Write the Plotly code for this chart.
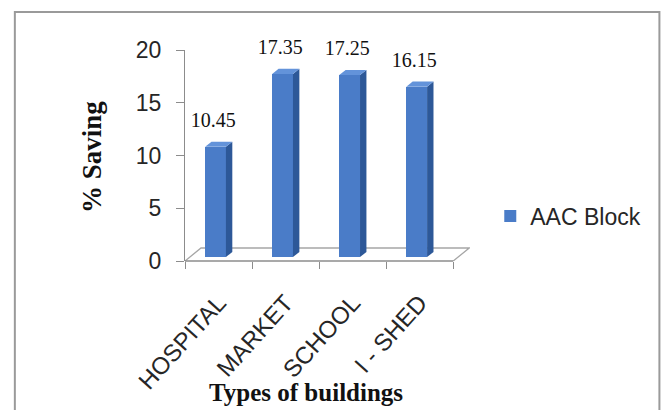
import plotly.graph_objects as go

# ---- data ----
categories = ["HOSPITAL", "MARKET", "SCHOOL", "I - SHED"]
savings = [10.45, 17.35, 17.25, 16.15]
label_text = ["10.45", "17.35", "17.25", "16.15"]
y_ticks = [0, 5, 10, 15, 20]
series_name = "AAC Block"
x_title = "Types of buildings"
y_title = "% Saving"

# ---- layout geometry ----
W, H = 663, 410
L, T = 185, 50
X_RANGE = [-0.5, 3.75]
Y_RANGE = [0, 20]
PX_PER_CAT = 67
PLOT_W = PX_PER_CAT * (X_RANGE[1] - X_RANGE[0])
PLOT_H = 211
R = W - L - PLOT_W
B = H - T - PLOT_H
Y0_PX = T + PLOT_H


def px_to_paper_x(px):
    return (px - L) / PLOT_W


def px_to_paper_y(py):
    return (Y0_PX - py) / PLOT_H


# 3-D depth vector (in axis units)
DX = 16 / PX_PER_CAT
DY = 13 / (PLOT_H / (Y_RANGE[1] - Y_RANGE[0]))
K0, K1 = 0.3, 0.7
BAR_OFFSET = -0.2
BAR_WIDTH = 0.31
base = K0 * DY
ddx = (K1 - K0) * DX
ddy = (K1 - K0) * DY

FRONT = "#4a7cc8"
SIDE = "#2d5898"
TOP = "#6393da"
AXIS = "#8c8c8c"
SANS = "Liberation Sans Narrow, Arial Narrow, Liberation Sans, sans-serif"
SERIF = "Liberation Serif, Times New Roman, serif"

fig = go.Figure()

fig.add_trace(go.Bar(
    x=categories, y=savings, base=[base] * len(savings),
    offset=BAR_OFFSET, width=BAR_WIDTH,
    marker=dict(color=FRONT, line=dict(width=0)),
    name=series_name, showlegend=True,
))

shapes = []
# floor outline
shapes.append(dict(
    type="path", xref="x", yref="y",
    path=(f"M {X_RANGE[0]},0 L {X_RANGE[0] + DX},{DY} "
          f"L {len(categories) - 0.5 + DX},{DY} L {len(categories) - 0.5},0"),
    line=dict(color="#a6a6a6", width=1.3), layer="below",
))
# x axis line (front edge)
shapes.append(dict(
    type="line", xref="x", yref="paper",
    x0=-0.5, x1=len(categories) - 0.5, y0=0, y1=0,
    line=dict(color=AXIS, width=1.3),
))
# side and top faces of bars
for i, v in enumerate(savings):
    xl = i + BAR_OFFSET
    xr = xl + BAR_WIDTH
    top = base + v
    shapes.append(dict(
        type="path", xref="x", yref="y",
        path=f"M {xr},{base} L {xr + ddx},{base + ddy} L {xr + ddx},{top + ddy} L {xr},{top} Z",
        fillcolor=SIDE, line=dict(width=0),
    ))
    shapes.append(dict(
        type="path", xref="x", yref="y",
        path=f"M {xl},{top} L {xr},{top} L {xr + ddx},{top + ddy} L {xl + ddx},{top + ddy} Z",
        fillcolor=TOP, line=dict(width=0),
    ))
# outer frame
shapes.append(dict(
    type="rect", xref="paper", yref="paper",
    x0=px_to_paper_x(15), x1=px_to_paper_x(659),
    y0=px_to_paper_y(420), y1=px_to_paper_y(12),
    line=dict(color="#9a9a9a", width=2), fillcolor="rgba(0,0,0,0)",
))

# data labels
fig.add_trace(go.Scatter(
    x=[i - 0.08 for i in range(len(savings))],
    y=[base + v + ddy + 0.9 for v in savings],
    text=label_text, mode="text", textposition="top center",
    textfont=dict(family=SERIF, size=20, color="#111111"),
    xaxis="x2", showlegend=False, cliponaxis=False, hoverinfo="skip",
))

fig.update_layout(
    width=W, height=H, autosize=False,
    margin=dict(l=L, r=R, t=T, b=B, pad=0),
    paper_bgcolor="white", plot_bgcolor="white",
    shapes=shapes,
    xaxis=dict(
        type="category", range=X_RANGE, tickson="boundaries",
        ticks="outside", ticklen=7, tickcolor=AXIS, tickwidth=1.3,
        showline=False, showgrid=False, zeroline=False,
        tickangle=-48, ticklabelstandoff=22,
        tickfont=dict(family=SANS, size=24, color="#262626"),
    ),
    xaxis2=dict(overlaying="x", range=X_RANGE, visible=False),
    yaxis=dict(
        range=Y_RANGE, tickvals=y_ticks,
        ticks="outside", ticklen=8, tickcolor=AXIS, tickwidth=1.3,
        showline=True, linecolor=AXIS, linewidth=1.3,
        showgrid=False, zeroline=False, ticklabelstandoff=10,
        tickfont=dict(family=SANS, size=23, color="#262626"),
    ),
    legend=dict(
        x=px_to_paper_x(490), y=px_to_paper_y(216),
        xanchor="left", yanchor="middle",
        font=dict(family=SANS, size=23, color="#262626"),
        bgcolor="rgba(0,0,0,0)",
    ),
    annotations=[
        dict(text=f"<b>{y_title}</b>", xref="paper", yref="paper",
             x=px_to_paper_x(92), y=px_to_paper_y(157),
             xanchor="center", yanchor="middle", textangle=-90, showarrow=False,
             font=dict(family=SERIF, size=27, color="#111111")),
        dict(text=f"<b>{x_title}</b>", xref="paper", yref="paper",
             x=px_to_paper_x(306), y=px_to_paper_y(392),
             xanchor="center", yanchor="middle", showarrow=False,
             font=dict(family=SERIF, size=25, color="#111111")),
    ],
    bargap=0,
)

fig.write_html("out.html")
